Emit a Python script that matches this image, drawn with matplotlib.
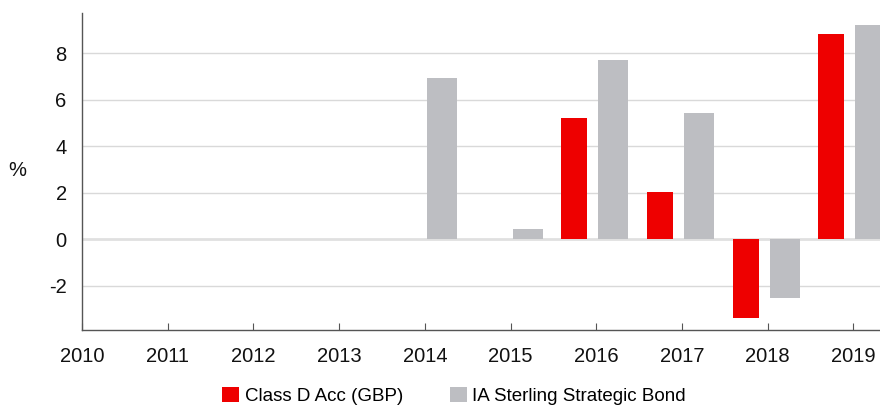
import matplotlib
matplotlib.use("Agg")
import matplotlib.pyplot as plt
import numpy as np

years = ["2010", "2011", "2012", "2013", "2014", "2015", "2016", "2017", "2018", "2019"]
class_d = [np.nan, np.nan, np.nan, np.nan, np.nan, np.nan, 5.20, 2.02, -3.38, 8.82]
ia_bond = [np.nan, np.nan, np.nan, np.nan, 6.92, 0.43, 7.70, 5.42, -2.54, 9.20]
series_names = ["Class D Acc (GBP)", "IA Sterling Strategic Bond"]
y_ticks = [-2, 0, 2, 4, 6, 8]

RED = "#EE0000"
GREY = "#BDBEC2"

plt.rcParams["font.family"] = ["Liberation Sans", "DejaVu Sans"]

fig = plt.figure(figsize=(8.8, 4.08), dpi=100)
ax = fig.add_axes([82 / 880, 1 - 330 / 408, 1 - 82 / 880, (330 - 13) / 408])

x = np.arange(len(years))
ax.bar(x - 0.257, class_d, width=0.303, color=RED, label=series_names[0], zorder=3)
ax.bar(x + 0.198, ia_bond, width=0.35, color=GREY, label=series_names[1], zorder=3)

ax.set_xlim(0, 9.31)
ax.set_ylim(-3.91, 9.72)
ax.set_yticks(y_ticks)
ax.set_yticklabels([str(v) for v in y_ticks])
ax.set_xticks(x)
ax.set_xticklabels(years)

for v in y_ticks:
    ax.axhline(v, color="#d9d9d9" if v != 0 else "#e0e0e0", lw=1.0 if v != 0 else 2.0, zorder=1)

for s in ["top", "right"]:
    ax.spines[s].set_visible(False)
for s in ["left", "bottom"]:
    ax.spines[s].set_color("#555555")
    ax.spines[s].set_linewidth(1.0)

ax.tick_params(axis="y", length=0, labelsize=14.5, pad=11, colors="#111111")
ax.tick_params(axis="x", direction="in", length=5, color="#555555", labelsize=14.5, pad=12, labelcolor="#111111")

fig.text(17 / 880, 1 - 170 / 408, "%", fontsize=14.5, ha="center", va="center", color="#111111")

leg = fig.legend(loc="center", bbox_to_anchor=(454 / 880, 1 - 396 / 408), ncol=2, frameon=False,
                 fontsize=13.5, handlelength=0.9, handleheight=0.9, handletextpad=0.3, columnspacing=2.5)

fig.savefig("out.png", dpi=100)
